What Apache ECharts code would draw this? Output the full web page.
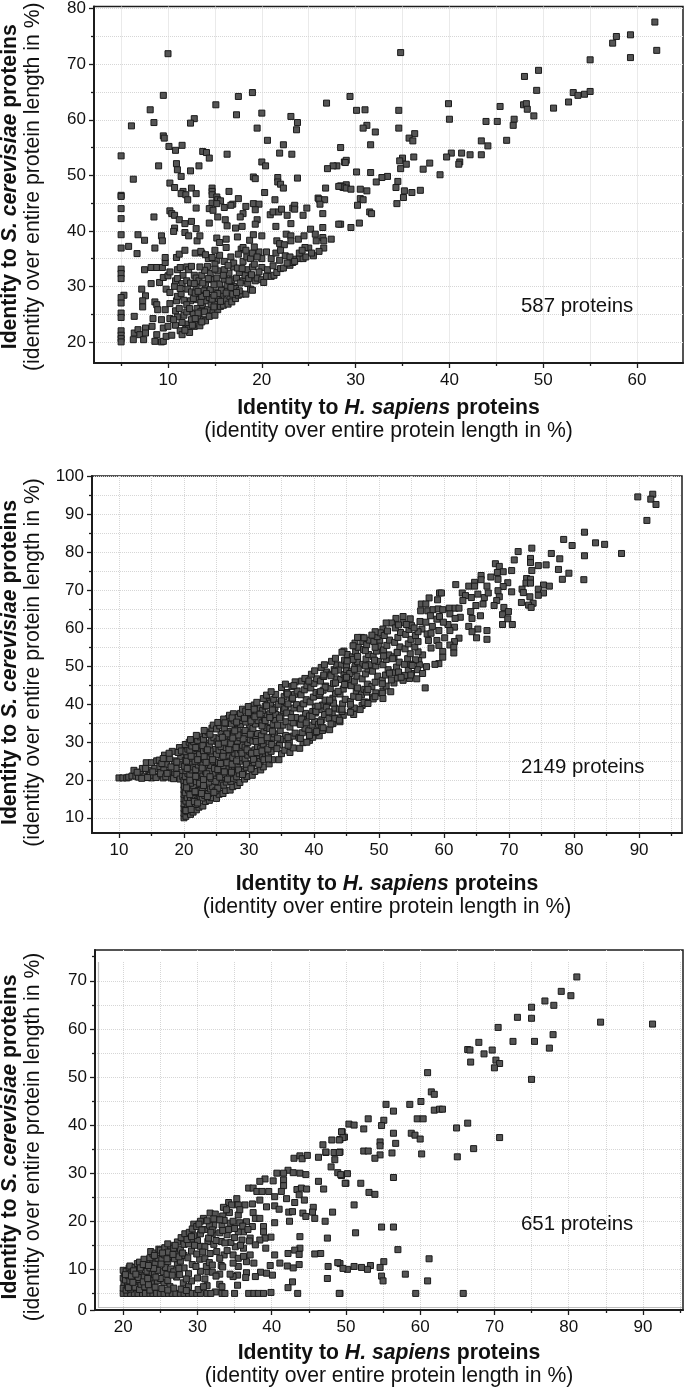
<!DOCTYPE html>
<html><head><meta charset="utf-8">
<style>html,body{margin:0;padding:0;background:#fff}#c{width:685px;height:1390px}</style>
<script src="https://cdn.jsdelivr.net/npm/echarts@6/dist/echarts.min.js"></script>
</head><body><div id="c"></div>
<script>
// Flat lists: x, y, x, y ... (identity to H. sapiens, identity to S. cerevisiae)
const yeastOnlyA = [10,71.9,9.5,64.4,8.1,61.8,8.5,59.5,6.1,58.9,15.1,62.7,17.5,64.2,17.3,60.9,19,64.9,20,61.2,19.5,58.5,23.1,60.6,23.8,59.5,23.7,58.2,20.6,56.3,12.8,60.2,12.4,59.4,9.5,57.1,9.6,56.7,10.1,55.2,10.8,54.5,11.5,55.4,5,53.5,13.7,54.3,14.1,54.1,14.4,53.1,16.3,53.8,21.9,54,22.3,55.5,23.2,53.8,20,52.4,20.4,51.7,26.9,63,9,51.7,10.9,52.1,11,51,11.4,49.8,12.4,50.8,13.3,51.7,6.3,49.3,19.1,49.7,19.3,49.4,21.7,49.6,23.8,49.5,10.2,48.6,10.7,47.8,21.7,48.8,22,48.4,22.3,47.7,28.4,55,28,51.7,27.6,51.7,27,51.2,28.8,52.4,28.4,48.1,28.7,47.8,26.8,47.7,5,46.4,5,46.2,5,44,5,42.2,8.5,42.5,11.6,47.1,11.4,46.7,11.9,46.5,12.1,45.6,12.5,47.7,13,46.7,13,44.1,14.7,47.7,14.7,47.1,14.7,46.5,15.2,46.1,15.3,45.6,15.6,45.4,14.7,45,15.2,44.9,14.4,44,14.8,43.7,16.5,47.1,17.5,45.8,16.9,44.8,16.7,44.6,16,44.2,18.3,44.4,19.1,44.9,19.7,44.8,20.3,46.9,21.4,45.6,19.3,43.8,18,43.1,17.7,42.5,15.3,42.5,16.1,42,19.5,42,20.9,42.9,21.2,43.4,21.8,43.4,22.1,43.9,22.7,42.8,23.3,44.1,23.5,44.6,23.5,43.9,24.4,42.8,24.8,44.1,26,45.9,26.1,45.7,26.7,45.6,26.2,44.8,26.5,43.1,10.2,43.6,10.4,43.1,10.7,42.8,11.2,42,12.5,41.7,11.8,41.3,14.4,41.4,23.1,41.3,19.3,41.2,28.4,41.2,10.7,40.5,21.5,40.8,16.3,40.9,17.9,40.8,17.2,40.5,13,40.4,25.2,40.3,26.5,40.6];
const yeastOnlyB = [61.9,77.6,57.8,75,59.3,75.3,57.4,73.8,62.1,72.5,59.3,71.2,55,70.8,49.5,68.9,48,67.8,49.3,65.3,53.2,64.9,53.7,64.4,54.4,64.6,55,65.1,52.7,63.2,51.1,62.1,47.9,62.7,48.2,62.9,48.3,61.9,49,60.7,45.4,62.4,46.9,60.1,46.8,59,43.9,59.7,45.1,59.7,46.1,56.3,43.4,56.2,44.1,55.3,43.4,53.7,42.2,53.7,41.3,54,40.2,54,39.7,53.3,39.9,62.9,40,60.1,34.8,72.1,29.4,64.2,30.1,61.7,31,61.8,34.6,61.7,34.6,58.5,31.2,59,30.8,58.5,32.1,57.8,36.3,57.5,35.7,56.7,36.1,56.2,31.6,55.5,36.2,53.3,35,53.1,34.7,52.6,35.4,52,37.9,52.2,37.2,51.1,34.8,51.2,29,52.7,28.9,52.3,30.1,50.6,31.6,50.5,33.4,49.8,32.8,49.6,32.2,48.8,34.5,48.9,34.3,47.8,39,50.1,41.1,52.4,41,52,35.2,47.2,36,46.9,36.9,47.3,35.1,46,34.4,44.9,29,48.3,28.6,47.9,28.2,48,29,47.7,29.5,47.5,30.5,47.5,31.2,47.2,30.5,45.8,30.8,45.6,30.2,44.6,31.5,43.4,31.7,43.1,28.2,41.2,29.5,40.6,30.4,41.4];
const yeastOnlyC = [5,39.3,5,36.9,5.8,37.2,6.7,35.9,6.8,39.3,7.5,38.3,8.6,36.9,9.3,39.1,9.4,38.2,10.6,39.9,11.8,39.7,12.2,39.1,13.1,38.2,13.4,39.1,15.2,38.7,15.5,37.9,16.2,38.5,17.4,38.9,17.8,36.7,18.7,38.3,19.1,39.3,20,39.1,21.6,38.2,21.9,37.7,22.4,37.5,22.6,39.4,23.1,39.1,23.1,38.2,23.9,38.5,24.5,39.1,25.7,39.4,25.8,38.2,26.5,38.8,26.6,38.2,27.4,38.5,26.6,36.9,26.1,36.3,25,36.9,24.6,37,25.5,35.5,5,33.1,5,32.3,5,31.4,5.3,28.4,5,28,5,27,5,25.2,5,24.4,5,22,5,21.2,5,20.6,5,20,6.4,24.6,7.2,29.5,7.6,28.3,7.3,27.4,7.3,26.3,8.2,30.5,7.5,33,8.2,33.4,8.8,33.4,9.4,33.4,9.7,34.3,9.7,35.2,10.9,35.2,11.2,35.8,11.8,36.5,12.9,36,13.6,36,9.1,30.7,9.5,31.6,10,31.9,10.2,32.6,9.8,29.5,10.2,28.9,10.7,30,10.8,31,8.6,27.2,8.8,26.7,8.9,25.8,9.7,25.8,10.2,26.9,10.9,27.4,6.3,20.4,6.4,21.6,6.8,22.2,7,21.3,7.4,20.4,7.6,22.5,7.6,21.6,8.3,22.8,8.4,24.2,8.6,20.1,8.8,21.3,9.3,20,9.5,20.1,9.3,24,9.5,22.5,9.8,21,10,22.8,10.2,24.2];
const yeastBandA = [10.4,21.2,10.8,23,11,24.5,11.3,22,11.5,21.3,11.7,24.8,11.9,23.2,12,25.4,12.2,22.4,12.3,21.7,12.5,24,12.7,25.2,12.8,22.8,13,23.4,13.1,26,13.3,24.6,13.4,22.9,13.5,25.5,13.7,26.7,13.8,24,14,27.4,14,23.8,14.2,25.8,14.4,28,14.6,26.8,14.8,25.3,15,27.2,15.1,29,15.3,25.8,15.4,27.8,15.6,26.4,15.8,28.6,15.9,26.6,16.1,29.5,16.2,27.4,16.4,26.8,16.6,28.2,16.8,27.2,17,30,17.2,27.8,17.5,28.4,17.8,28.6,18,31,18.3,28.6,18.5,30.5,18.8,29.5,19,29.3,19.3,31,19.5,31.5,20,31.2,20.2,30.7,20.5,31.8,21,31.8,21.3,32,21.6,32.5,22,33.2,22.3,33.3,23,33.8,23.3,34.3,23.5,34.9,24,35,24.4,35,24.7,35.3,25.3,36];
const yeastBandB = [11,33,11.3,33.4,11.6,32,12,33.5,12.2,33,12.5,33.6,12.8,32,13,31.5,11,31.4,11.5,30.5,12,31,12.4,30.6,12.1,29.5,12.5,29,13,29.8,13.3,31,13.6,32,14.2,33.6,14.5,32.3,14.7,31.2,15.2,31.5,15.5,30.4,14,30.2,13.8,29.2,13.4,28.4,14.5,29.4,13,27.6,13.5,27.1,12.4,27.4,11.7,27.5,11,28.2,11.4,28.7,12,26.7,12.7,27.8,16,31.3,16.5,32.4,16.8,31.2,17.3,31.5,17.7,30.6,18.2,32,18.5,33,19,33.5,16,33,17,33.5,15.7,29.3,16.3,30.2,17.2,29.6,17.6,32.5,15.2,34.7,15,34,14.3,35,14.7,35.2,15.5,35.6,16,34.5,16.7,35.3,17,34.2,17.4,33.3,18,34.5,18.4,35.3,18.8,35,19.2,34,20,33.4,20,35,19.7,36.2,20.5,36.2,21,35,21.5,36,22,36.5,22.5,35.5,23,35.3,23.5,34.5,24,36,24.3,36.5,15,36.5,16.2,37,13.5,36.3,14,35.7,17.5,35.8,18,37,18.3,36.5,19,36,19.5,35.3,19.2,37.1,10.8,25.6,11.2,26,10.6,24,11.5,23.5,12.6,23,13.2,25.2,13.9,25.4,14.4,24.6,15,24.8,14.9,26.3,13.6,28.2,12.9,28.8,13.7,30.6,14.3,31.4,15.3,32.8,15.9,32,14.9,30.3,15.3,28.7,16.7,29.8,17.6,29.2,11.8,22.1,12.9,24.2,13.6,23.6,14.7,27.7,15.6,27.3,16.2,28.8,16.9,28.6,17.3,28.9,18.6,31.4,19.7,32.6,12.3,26,11.3,29.6,12.8,30.5,13.2,29.1,14.1,28.7,14.9,28.4,16.5,31,17.9,33.2,18.9,32.1,20.6,33,21.2,33.7,21.9,34.7,22.7,34.2,16.4,33.8,15,33.1,13.9,32.9,13.4,33.5];
const humanSparse = [89.8,94.5,92.1,95.2,91.8,93.9,92.6,92.5,91.2,88.3,81.6,85.2,78.4,83.3,79.7,81.7,83.3,82.4,84.7,82,87.3,79.6,81.6,79,76.5,79.6,77.8,78.2,71.4,80.1,73.5,81,70.8,77.9,73.3,78.3,73.3,77.2,74.5,76.4,75.7,76.6,73.5,75.1,70.4,75.1,77.6,75.4,79.2,74.4,78.2,72.8,81.5,72.7,67.9,76.9,68.5,76.2,69.1,74.8,68.2,74.6,67.2,73.4,68.3,72.8,65.7,73.8,65.7,72.7,69.8,71.9,72.7,73,73.3,72.8,72.6,71.8,73.3,71.8,75.3,71.3,76.2,71,74.5,70.2,75.3,69.2,74.5,68.6,69.1,70.9,68.3,69.8,70.4,69.5,72,70.2,72.2,69.3,73.2,68.2,71.9,66.7,73.7,66.5,73,66,73.4,65.4,61.8,71.4,63.8,71,64.7,72,64.7,71,66.6,71,59.3,69.2,59.6,69.2,59,67.4,57.7,67.9,62.8,69.2,63.3,68.5,62.9,67.2,64.2,68,65.2,68.9,66.2,68,66,66.3,64.9,65.9,66.8,69.2,68.5,68.2,68.1,67.2,67.7,65.9,69.2,65.4,69.9,64.3,69,63.5,69.8,62.4,69,60.9,70.5,60.9,64.1,64.3,65.6,63.2,64.3,62.5,63.8,60.4,65.2,59.7,64.3,59,66.6,59.3,66.6,57,65,57.4,56.5,66.3,57.2,66.3,56.4,64.5,57.5,64.5,58.3,64.8,59.1,65,59.8,64.8,60.8,65.2,61.7,65.2,62.3,65.2,60.9,63.7,62.5,62.8,61.7,62.5,58.9,62.3,57.9,63.2,59.3,63,60.6,60.9,61.6,60.2,59.2,59.3,60.9,59.3,62.3,57.3,61.6,56.4,60.9,55.5,61.5,54.9,61.5,53.4,59.8,53.8,59.8,52.3,59.2,50.6,58.6,50.4,58.9,56.7,58,54.7,59.2,55.4,54.8,62.4,53.7,63,52.6,62.5,51.9,61.3,51.1,61.3,50.6,59.7,53.7,61.4,56.3,61.7,57.2,61.5,56.6,59.7,57.4,58.4,57.6,56.7,56.7,52.9,56.1,51.4,56.2,50.3,55,48,54.7,46.7,53.7,46.2,47.3,57.5,46.3,56,47.5,56.4,44.6,53.9,49.1,56.7,50.1,56.7,58.2,60.4,59.9,61.5,58,58.6,60.1,57.4];
const humanWedge = [10,20.5,10.6,20.5,11.2,20.5,11.5,20.7,12,21,12.3,22.5,12.6,21,13,20.7,13.3,22,13.6,23,14,21,14.2,24.5,14.6,22.5,15,20.5,15,24.5,15.5,23,15.8,25,16,21,16.3,23.5,16.8,20.5,17,26.5,17.3,24,17.6,22,18,20.5,18.2,27.5,18.5,25,18.8,23,19,20.5,19.3,28.5,19.5,26,19.7,22,19.7,24,16.2,25.2,17.8,25.6,18.6,21.5,14.8,21.2,16.9,22.6,19.1,27.2,13.5,20.4,14.4,20.6,15.7,20.6,16.4,21.6,17.2,20.8,17.4,21.7,18.4,20.3,18.9,21.4,19.4,20.2,19.8,20.9,15.2,22.1,16.6,24.3,18,23.4,18.9,24.7,19.6,27.6,17.7,27,16.8,25.6,14.1,23,12.8,22];
const humanCoreA = [20,10,20,11.2,20,12.5,20,13.7,20,15,20,16.2,20,17.4,20,18.6,20,19.8,20.3,10.4,20.5,11.6,20.2,12.1,20.6,13.3,20.3,14.4,20.5,15.3,20.2,16.6,20.7,17.3,20.1,18.3,20.4,19.2,20.2,20.9,20.6,21.7,20.3,22.4,20.1,23.6,20.7,24.3,20.2,25.1,20.5,26.2,20.3,27.4,20.6,28.1,20.2,29.3,20.8,29.9,21,10.9,21.4,11.5,20.9,12.9,21.3,13.8,21,14.9,21.5,15.7,20.9,16.1,21.2,17.9,21.5,18.4,21,19.1,21.4,20.4,20.9,21.3,21.2,22.6,21.5,23.4,21,24.7,21.3,25.7,21.5,27.1,20.9,27.8,21.2,28.9,21.5,30,21,30.6,21.9,12.1,22.3,12.8,21.8,13.5,22.1,14.7,22.5,15.5,21.8,16.7,22.2,17.2,22.6,18.8,21.9,19.5,22.3,20.6,22.5,21.9,21.8,22.7,22.2,23.9,22.6,24.6,21.9,26.1,22.4,26.9,22,28.2,22.6,29.2,22.1,30.4,22.5,31.3,21.9,31.7,22.9,13.1,23.3,14.3,22.8,15.2,23.2,15.9,23.5,17.1,22.8,17.8,23.1,19,23.5,19.8,22.9,21,23.3,22.2,23.6,23.1,22.9,24.2,23.2,25.4,23.6,26.4,23,27.6,23.4,28.3,23.7,29.7,23,30.7,23.3,31.9,23.7,32.6,23.1,33,23.9,14.6,24.2,15.3,23.8,16.4,24.1,17.6,24.4,18.2,23.8,19.4,24.2,20.4,24.5,21.5,23.9,22.4,24.1,23.8,24.5,24.9,23.9,25.8,24.3,26.9,24.5,28,23.9,29,24.2,30.2,24.6,31.1,24,32,24.3,33.6,24.5,34.4];
const humanCoreB = [25,15.1,25.4,16.2,24.9,17.1,25.3,18.3,25.6,19.1,25,20.2,25.4,21.6,25.7,22.3,25,23.3,25.3,24.6,25.7,25.7,25,26.7,25.4,27.8,25.7,28.7,25.1,30,25.4,31,25.7,32.2,25,33.4,25.5,34.2,25.2,35.1,26,16.4,26.4,17.2,26.1,18.6,26.5,19.4,26,20.7,26.4,21.4,26.7,22.9,26,23.7,26.4,25.2,26.8,26.2,26.1,27.2,26.5,28.5,26.8,29.4,26.1,30.6,26.4,31.5,26.8,32.7,26.2,33.6,26.5,34.9,26.8,36.1,26.1,36,27.1,17.3,27.5,18.2,27.2,19.6,27.6,20.4,27,21.6,27.4,22.7,27.8,23.5,27.1,24.9,27.5,25.8,27.8,27,27.2,28.1,27.5,29.3,27.9,30.1,27.2,31.4,27.6,32.2,27.9,33.6,27.3,34.7,27.7,35.7,27,37,27.6,37.4,28.2,18.5,28.6,19.3,28.1,20.8,28.5,21.6,28.9,22.8,28.2,23.6,28.6,24.9,29,25.8,28.3,26.9,28.7,27.9,29,29.1,28.2,30.2,28.6,31.1,29,32.4,28.3,33.3,28.7,34.6,29,35.6,28.3,36.4,28.7,37.5,29,38.6,29.3,20.2,29.7,20.9,29.2,22.1,29.6,23.3,30,24.4,29.4,25.4,29.8,26.5,30.1,27.4,29.4,28.6,29.8,29.8,30.2,30.6,29.4,31.9,29.8,33,30.1,34.1,29.5,35.2,29.9,36.3,30.2,37.4,29.5,38.1,29.9,39.3,30.5,21.2,30.9,22.2,30.4,23.5,30.8,24.6,31.2,25.5,30.5,26.7,30.9,27.9,31.3,28.8,30.6,30.2,31,31.3,31.3,32.2,30.6,33.5,31,34.7,31.4,35.6,30.7,36.7,31.1,37.8,31.4,38.9,30.8,39.7,31.2,40.4,31.8,22.6,32.2,23.4,31.7,24.8,32.1,26.1,32.5,27,31.8,28.2,32.2,29.4,32.6,30.5,31.9,31.6,32.3,32.9,32.7,33.8,32,35,32.4,36.2,32.8,37.1,32.1,38.3,32.5,39.4,32.8,40.6,32.2,41.4,32.7,42.3,33.1,24.2,33.6,25.3,33,26.6,33.4,27.5,33.8,28.9,33.1,30,33.5,31.2,33.9,32.1,33.2,33.5,33.7,34.6,34,35.8,33.3,36.9,33.7,38,34,39.1,33.3,40.2,33.8,41.2,34.1,42.5,33.4,43.2];
const humanCoreC = [34.6,25.3,35,26.9,35.5,27.8,34.7,29.2,35.2,30.6,35.6,31.7,34.8,33,35.2,34.4,35.7,35.3,34.9,37,35.3,38.2,35.7,39.5,34.9,40.6,35.4,41.9,35.8,43,35,44.3,35.6,45.2,36.3,27.2,36.8,28.4,36.2,30,36.7,31.5,37.1,32.3,36.3,33.9,36.8,35,37.2,36.4,36.4,37.6,36.9,38.9,37.3,39.8,36.5,41.2,37,42.5,37.4,43.4,36.6,44.6,37.1,45.8,37.8,28.3,38.3,29.8,37.7,31.1,38.2,32.4,38.6,33.6,37.8,34.9,38.3,36.3,38.7,37.5,37.9,38.7,38.4,40,38.8,41.1,38,42.4,38.5,43.7,38.9,44.8,38.1,46,38.6,46.7,39.3,30.4,39.8,31.2,39.2,32.9,39.7,34.4,40.1,35.4,39.3,36.8,39.8,38,40.2,39.2,39.4,40.5,39.9,41.8,40.3,43,39.5,44.2,40,45.4,40.4,46.6,39.6,47.8,40.1,48.7,40.8,31.6,41.3,33,40.7,34.6,41.2,35.8,41.6,37.2,40.8,38.5,41.3,39.7,41.7,41,40.9,42.2,41.4,43.6,41.8,44.7,41,46,41.5,47.2,41.9,48.4,41.1,49.6,41.6,50.3,42.4,33.2,42.9,35,42.3,36.2,42.8,37.6,43.2,38.9,42.4,40.3,42.9,41.5,43.3,42.8,42.5,44,43,45.4,43.4,46.6,42.6,47.8,43.1,49,43.5,50.2,42.7,51.2,43.3,52,44,35.3,44.5,37,43.9,38.6,44.4,40,44.8,41.2,44,42.6,44.5,43.9,44.9,45,44.1,46.4,44.6,47.7,45,49,44.2,50.2,44.7,51.5,45.1,53,44.3,53.6,45.7,38,46.2,38.9,45.6,40.6,46.1,42,46.5,43.4,45.7,44.8,46.2,46,46.6,47.3,45.8,48.6,46.3,49.8,46.7,51.1,45.9,52.4,46.4,53.7,46.8,54.9,46,55.3,47.4,39.6,47.9,40.5,47.3,42.4,47.8,43.8,48.2,45.2,47.4,46.6,47.9,47.9,48.3,49.2,47.5,50.4,48,51.8,48.4,53,47.6,54.3,48.1,55.6,48.5,56.8,47.7,57.4,49,41.8,49.5,42.9,48.9,44.6,49.4,45.7,49.8,47.3,49,48.6,49.5,50,49.9,51.2,49.1,52.5,49.6,53.9,50,55.2,49.2,56.4,49.7,57.7,50.2,58.7,49.4,59,50.6,43.4,51.1,44.7,50.5,46.2,51,47.6,51.4,49,50.6,50.3,51.1,51.7,51.5,52.9,50.7,54.2,51.2,55.4,51.6,56.8,50.8,58,51.3,59.2,52.3,45.5,52.8,46.8,52.2,48.3,52.7,49.7,53.1,51,52.3,52.4,52.8,53.6,53.2,55,52.4,56.2,52.9,57.5,53.3,58.8,52.5,60,53,60.8,54,47.5,54.5,49,53.9,50.4,54.4,51.9,54.8,53.2,54,54.5,54.5,55.8,54.9,57,54.1,58.3,54.6,59.6,55,60.6,54.2,60.9,55.6,51.6,56,53.7,55.5,55,56,56.4,55.6,58,56,59,55.4,60];
const humanCoreD = [20.3,11.9,20.8,13.8,21.1,12.2,21.6,14.3,20.4,17.9,21.7,16.9,22.1,13.9,22.7,16.4,20.9,19.9,21.8,20.9,22.4,19.1,23,20.1,20.5,23,21.7,24.9,22.8,23.1,23.5,21.6,20.4,24.9,21.1,26.2,22.1,25.3,23.1,26.1,24,27.6,21.8,28.5,22.9,29,23.6,27.9,24.4,25.3,23.4,24.6,24.7,23,24.9,19.6,25.2,17.8,24.6,16.7,23.6,15.6,23,18.5,24,20.8,25.5,20.7,26.2,22.1,26.7,20.2,27.3,22,25.2,22.7,25.6,24.3,26.6,24.5,27.4,24.1,28.1,25,28.4,22.6,29,21.4,29.6,24.1,30.3,22.9,30.7,25.4,31.5,24.1,32.3,25.3,33,25.5,26,26.2,26.9,28,25.3,29.4,26.2,29.9,27.2,29.5,28,28.5,28.9,27,29.7,27.9,30.4,27,31.2,27.2,32,27.6,32.9,28.1,33.5,29.3,34.3,28.2,34.8,30.7,29.1,30.8,28.3,31.8,27.5,31,26.6,32.1,25.9,31.2,27.8,32.9,29.4,33,30.2,32,31.1,30.1,31.9,30.3,32.8,31.1,33.6,32.8,34.4,31,26.3,35,27.4,36.3,28.1,35.2,29.3,36.2,30.3,35.5,30.9,36.6,32,34.2,32.5,35.6,33.2,37.4,34.1,37.2,29.9,37.7,30.8,38.6,31.7,37.3,32.7,39.5,33.6,38.4,34.5,39.9,35,40.8,35.5,38.7,36,40,35.9,42.6,36.7,41.5,34.4,34.4,34.7,36.3,35.8,37.6,36.5,36.4,37.9,34.6,38.1,36,40.2,37.6,41,35.2,42.9,34.8,43.7,36.3,44.3,38,43.2,36.1,38.8,35,33.2,36.4,36,29.1,36,31.1,38.9,29.9,37.9,30.9,39.3,31.7,40.2,32.5,41.2,33.8,39.7,36.7,40.3,38,41.9,39.1,40.6,39.4,43,40.2,42.4,41,40.8,42.6,43.7,43.3,41.7,44.4,43.3,45.5,45.3,46.5,44.7,45.1,46.7,44.2,48.1,43.1,46.9,41.7,47.7,40.4,49.1,41.3,50.5,42.8,49.4,41.9,45.6,39.9,44.3,38.6,42.3,37.9,44.8,46.8,45.5,48,43.8,48.9,42.6,47.4,41,43.2,36.9,44.8,39.2,46,41.5,47.6,43.2,48.6,45,50.3,46,51.7,48.5,50.3,49.3,51.5,50.7,52.6,52.8,53.5,52.1,51.9,54.9,50.4,55.9,49,57.3,49.8,54.9,47.6,53,48.4,51.6,48.1,55.8,46.6,56.7,48,47.9,50,46.8,49.2,45.1,51.3,46.7,52.5,47.9,54,49.4,54.9,46.7,57.5,48.9,58.1,46.2,49.1,45,47,48.3,43.8,50.5,45.3,51.9,46.3,53.4,47,55.1,50.1,57.1,44.2,51.8,43.2,50.6,41.4,48.3,40.1,47.1,38.5,46.1,37.2,45.6,37.8,43.9,35.7,42.6,34.7,41.4,33.7,40.4,32.7,39.2];
const lowSparse = [81.1,70.8,79,67.8,80.3,66.9,76.8,65.8,78,64.9,75,64.5,75,62.2,73.1,62.4,70.5,60.3,84.3,61.4,91.3,61,77.9,58.8,72.5,57.4,75.4,57.4,77.4,56,67.9,57.2,66.4,55.7,66.7,55.6,69.7,55.6,68.6,54.8,70.2,53.5,70.7,52.8,66.8,53.1,70,51.9,75,49.5,61,50.9,61.5,46.9,61.9,46.4,55.4,44.3,56.4,42.9,58.6,44.3,60.1,44.9,61.9,43.1,62.6,43.3,63,43.3,59.6,41.3,60.4,41.3,53,41.3,55.1,41,54.8,39.9,50.4,40.2,51.1,40,52.4,39.2,49.5,38.6,49.8,37.5,49.2,37,56.4,38.3,58.8,38.3,59.3,37.9,60,37.1,64.9,39.4,66.4,40.4,70.7,37.4,54.6,36.5,54.6,35.7,56.7,36.2,67.2,35.1,52.4,34.6,53,34.6,49.2,34.4,54.6,33.8,56.2,34.2,60.2,34,53.9,33.1,65,33.4,50.2,29.9,49.4,29.5,56.4,29.1,50,27.9,52,27.9,53.1,26,53.9,25.6,51.1,23.4,54.8,18.8,56.4,18.8,51.3,17.6,57,14.1,61.2,12.2,55.1,11.6,53.3,10.8,54.6,10.4,51.1,10.6,52.1,10.4,52.9,10,50.2,10,49.2,11.2,58,9,54.8,8.6,55,7.6,61,7.6,49.2,5,59.4,5,65.8,5,49.4,38.6,49.6,37.4,49.1,36.9,48.1,36.9,46.9,35.9,47.3,34.3,48.4,34.3,49.1,34.3];
const lowMiddle = [43,33.1,43.8,33.6,44.1,33,44.8,33.7,46.3,33.3,47.3,34.4,48.5,32.8,48,31.3,48.9,30.1,49.3,29.7,49.9,27.9,46.3,28.3,47,26.7,42.2,30.6,41.6,30,40.7,30,42.9,30.1,43.8,30,44.6,29.7,41.6,28.6,40.2,28.4,39.1,28.8,38.4,28.3,41.6,27.4,36.9,26.9,37.5,26.9,38,26.2,38.7,26.2,39.6,26.2,40.4,25.1,41.3,26.2,42,24.7,43.4,26.6,44,26.9,44.7,26.7,43.7,25.5,43.1,23.9,44.4,24.4,35.3,24.7,34.2,23.9,34.6,23.4,33.5,22.9,35.5,23.4,36.4,23.4,37.4,23.6,38.4,24.4,39.3,23,40.4,23.2,41,22.5,42.3,21.9,42.8,22,44.2,21.7,44.6,21,45.6,22.9,45.5,21.9,45.8,20.6,48.2,21.9,47.2,20,42.4,20,40.4,19.7,31.7,21.7,32.4,21.5,33.4,21.1,30.8,20.6,29.5,19.4,32.2,19.2,33.3,19.2,34.4,19.6,34.8,20,35.5,21.3,35.7,22.4,37.5,21.8,37.8,20.6,38.4,20.6,36.6,19.9,35.7,19.7,37.4,18.9,38.9,18.9,38.9,17.8,39.9,16.7,39.1,16.5,38.4,16.1,37.8,15.1,39.2,14.4,37.1,16.5,36.2,17.8,35.5,17.8,36,16.1,35.1,14.7,36.2,14.4,37.1,13,36.6,11.6,37.6,11.3,34.8,13,33.6,13,32.6,13.7,31.7,13.3,35.5,12.3,33,12.3,43.8,16.8,47.5,16.5,43.8,14.4,43.1,14,42.2,13.3,43.7,13.1,40.4,13,45.8,13.2,46.6,13.3,48.9,11.4,47.6,10.6,49.6,10.2,43.7,11,42.9,10.3,42.1,10.7,41.1,11.3,39.8,10.8,40.1,8.8,39.3,9.2,38.5,9.4,37.8,8.5,36.6,9.3,36.5,8.3,35.5,10.6,35.4,8.8,34.8,8.5,35.4,6.7,34.4,9,33,9,33,6.9,33.3,6.4,32.4,5.3,31.3,6.6,42.8,7.4,42.2,6.2,47.5,8.1,33,17.6,34,17.2,32,17.4,34.5,15.6,33.2,15.8,31.4,15.8,35,16.6];
const lowFloor = [20,5,20.5,5,21,5,21.5,5,22,5,22.6,5,23,5,23.6,5,24,5,24.5,5,25,5,25.5,5,26.1,5,26.6,5,27.1,5,27.7,5,28.2,5,28.8,5,29.3,5,29.9,5,30.4,5,31.3,5,31.8,5,33.3,5,33.7,5,35,5,36.9,5,37.6,5,38.2,5,38.9,5,39.9,5.2,43.5,5,49.1,5];
const lowDense = [20,6.1,20.1,7.3,20,8.2,20.2,9.1,20,9.8,20.4,5.7,20.6,6.6,20.3,7.8,20.7,8.7,20.4,9.6,20.8,10.3,21,5.9,21.2,7,20.9,7.6,21.3,8.4,21,9.2,21.2,10.1,20.9,10.7,21.6,6.3,21.8,7.6,21.5,8.1,21.9,9.3,21.6,10.4,21.9,11.2,22.2,5.8,22.4,6.9,22.1,7.9,22.5,8.8,22.2,9.9,22.6,10.6,22.2,11.5,22.9,6.4,23.1,7.7,22.8,8.4,23.2,9.6,22.9,10.9,23.3,11.8,22.8,12.1,23.6,5.7,23.8,7,23.5,8.2,23.9,9.1,23.6,10.3,24,11.4,23.6,12.4,24,13.2,23.7,13.7,24.3,6.3,24.6,7.6,24.2,8.9,24.7,9.8,24.3,11.1,24.7,12.3,24.3,13.4,24.8,14.2,25.2,6,25.5,7.3,25,8.1,25.4,9.5,25.7,10.4,25.2,12,25.6,13,25,14,25.6,14.5,26,7.7,26.3,6.4,25.9,9,26.4,10.1,26,11.6,26.4,12.7,26,13.6,26.4,14.9,26,15.3,26.8,6.1,27.2,8.4,26.8,9.5,27.3,11,26.9,12.2,27.3,13.6,26.8,14.4,27.3,15.7,27.8,5.9,28.1,7.2,27.6,8.9,28.2,10.3,27.7,11.7,28.2,12.9,27.7,14.2,28.2,15.2,27.8,16.6,28.3,17.4,28.8,6.4,29.2,7.6,28.8,9.1,29.3,11,28.7,12.4,29.2,13.8,28.8,15.3,29.3,16.3,28.9,17.7,29.3,18.4,30,8.2,30.4,9.6,29.8,10.6,30.3,12.1,29.9,13.2,30.4,14.8,30,16,30.4,17.4,29.9,18.9,30.4,20,31,8,31.4,9.5,31.2,10.6,31,12.2,31.6,11.4,31,14.7,31.5,16.5,31,18.3,31.6,19.2,32,9.4,32.5,8.6,32,10.9,32.2,15.2,32.5,16,32,18.2,33.6,20.2,33.2,10.8,30.1,5.8,30.8,6.4,28.5,5.6,26,5.7,21.1,8.6,21.4,9.7,22,8.3,22.7,7.4,23.3,8.1,24.1,10.2,25.1,11.1,26.6,8.8,27.5,12.6,28.5,8,29.6,15,30.7,13.6,20.3,8.9,20.7,6.2,21.3,7.3,21.7,9,22.3,10.3,22.7,11,23.4,6.8,23.4,10.8,24.4,8.4,24.2,12.9,25.3,13.4,25.9,12.2,26.7,13.1,27,15,27.5,10.2,28,13.4,28.6,16.2,29.5,17,30.2,19.4,30.6,18.2,29.2,16.8,31.3,20.1,32.2,20.5,33,20.3,34.3,21.8,33.9,22.4,31.8,17.7,33.4,18.1,34.2,18.3,35,18.5,36.1,19,36.8,18.3,33.7,15.5,35.8,15,37,15.9,33.4,10.5,34.8,11.3,34,13.9,36.2,12.7];
const xTicksA = [10,20,30,40,50,60], xMinorA = [5,15,25,35,45,55];
const yTicksA = [20,30,40,50,60,70,80], yMinorA = [25,35,45,55,65,75];
const xTicksB = [10,20,30,40,50,60,70,80,90], xMinorB = [15,25,35,45,55,65,75,85,95];
const yTicksB = [10,20,30,40,50,60,70,80,90,100], yMinorB = [15,25,35,45,55,65,75,85,95];
const xTicksC = [20,30,40,50,60,70,80,90], xMinorC = [25,35,45,55,65,75,85,95];
const yBaseC = 1.55; // the lowest tick of the third plot, which the figure labels 0
const yTicksC = [yBaseC,10,20,30,40,50,60,70], yMinorC = [5,15,25,35,45,55,65,75];
const countA = '587 proteins', countB = '2149 proteins', countC = '651 proteins';

const FONT = '"Liberation Sans", Arial, sans-serif', INK = '#1c1c1c';
const pairs = (...lists) => { const o = []; lists.forEach(l => { for (let i = 0; i < l.length; i += 2) o.push([l[i], l[i+1]]); }); return o; };
const panels = [
 {box:{left:94,top:6.5,width:589,height:356.5}, xr:[2.11,64.9], yr:[16.2,80.4], xT:xTicksA, xM:xMinorA, yT:yTicksA, yM:yMinorA, xGap:34, yGap:49, yShift:4, count:countA, ct:[521,307], pts:pairs(yeastOnlyA,yeastOnlyB,yeastOnlyC,yeastBandA,yeastBandB)},
 {box:{left:92,top:476,width:590,height:357}, xr:[5.85,96.6], yr:[6,100], xT:xTicksB, xM:xMinorB, yT:yTicksB, yM:yMinorB, xGap:40, yGap:47, yShift:16, count:countB, ct:[521,768], pts:pairs(humanSparse,humanWedge,humanCoreA,humanCoreB,humanCoreC,humanCoreD)},
 {box:{left:95,top:950,width:588,height:360}, xr:[16.2,95.4], yr:[yBaseC,76.4], xT:xTicksC, xM:xMinorC, yT:yTicksC, yM:yMinorC, xGap:32, yGap:50, yShift:14, count:countC, ct:[521,1225], pts:pairs(lowSparse,lowMiddle,lowFloor,lowDense)}
];
const richName = {
  b:{fontFamily:FONT,fontSize:21.2,fontWeight:'bold',color:'#111',lineHeight:23},
  i:{fontFamily:FONT,fontSize:21.2,fontWeight:'bold',fontStyle:'italic',color:'#111',lineHeight:23},
  r:{fontFamily:FONT,fontSize:21.2,color:'#111',lineHeight:23}
};
const gridLine = {show:true,lineStyle:{color:'#d6d6d6',type:'dotted',width:1}};
const axisLine = {show:true,onZero:false,lineStyle:{color:INK,width:2}};
const grid=[],xAxis=[],yAxis=[],series=[],graphic=[];
panels.forEach((p,i)=>{
  grid.push({...p.box,show:true,borderColor:INK,borderWidth:1.5,backgroundColor:'#fff',outerBoundsMode:'none',containLabel:false});
  xAxis.push({type:'value',gridIndex:i,position:'bottom',min:p.xr[0],max:p.xr[1],axisLine,
    axisTick:{show:true,length:5,customValues:p.xT,lineStyle:{color:INK,width:1.3}},
    axisLabel:{customValues:p.xT,fontFamily:FONT,fontSize:17,color:'#111',margin:9},
    splitLine:gridLine,name:'{b|Identity to }{i|H. sapiens}{b| proteins}\n{r|(identity over entire protein length in %)}',
    nameLocation:'middle',nameGap:p.xGap,nameTextStyle:{rich:richName}});
  yAxis.push({type:'value',gridIndex:i,position:'left',min:p.yr[0],max:p.yr[1],axisLine,
    axisTick:{show:true,length:5,customValues:p.yT,lineStyle:{color:INK,width:1.3}},
    axisLabel:{customValues:p.yT,fontFamily:FONT,fontSize:17,color:'#111',margin:8,formatter:v=>v===yBaseC?'0':String(v)},
    splitLine:gridLine,name:'{b|Identity to }{i|S. cerevisiae}{b| proteins}\n{r|(identity over entire protein length in %)}',
    nameLocation:'middle',nameGap:p.yGap,nameTextStyle:{rich:richName,padding:[0,p.yShift,0,0]}});
  series.push({type:'scatter',xAxisIndex:i,yAxisIndex:i,data:p.pts,symbol:'rect',symbolSize:6,clip:false,silent:true,animation:false,large:false,
    itemStyle:{color:'#555',borderColor:'#1a1a1a',borderWidth:1,opacity:1}});
  graphic.push({type:'text',left:p.ct[0],top:p.ct[1]-11,z:5,style:{text:p.count,fontFamily:FONT,fontSize:20.4,fill:'#111'}});
});
panels.forEach((p,i)=>{
  xAxis.push({type:'value',gridIndex:i,position:'bottom',min:p.xr[0],max:p.xr[1],axisLine:{show:false,onZero:false},
    axisTick:{show:true,length:3,customValues:p.xM,lineStyle:{color:INK,width:1.3}},axisLabel:{show:false},splitLine:gridLine});
  yAxis.push({type:'value',gridIndex:i,position:'left',min:p.yr[0],max:p.yr[1],axisLine:{show:false,onZero:false},
    axisTick:{show:true,length:3,customValues:p.yM,lineStyle:{color:INK,width:1.3}},axisLabel:{show:false},splitLine:gridLine});
});
// Third plot: inner light frame and the blank strip above its grid
graphic.push({type:'rect',left:96,top:951,z:1,shape:{width:586,height:11},style:{fill:'#fff'}});
graphic.push({type:'line',z:1,shape:{x1:98.5,y1:962,x2:98.5,y2:1308},style:{stroke:'#bdbdbd',lineWidth:1.2}});
graphic.push({type:'line',z:1,shape:{x1:98.5,y1:1307.5,x2:682,y2:1307.5},style:{stroke:'#bdbdbd',lineWidth:1.2}});
const chart = echarts.init(document.getElementById('c'),null,{renderer:'canvas'});
chart.setOption({animation:false,backgroundColor:'#fff',grid,xAxis,yAxis,series,graphic});
</script></body></html>
